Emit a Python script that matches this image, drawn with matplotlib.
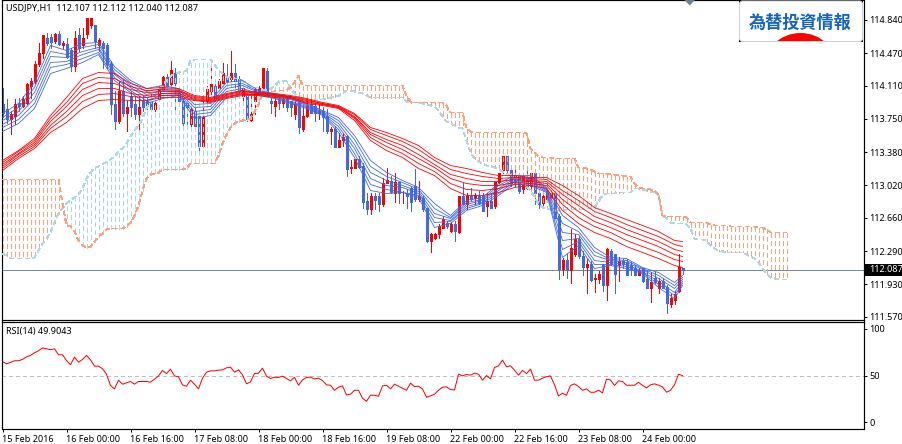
"""USDJPY H1 chart with GMMA ribbons, Ichimoku cloud and RSI pane."""

import matplotlib

matplotlib.use("Agg")
import matplotlib.pyplot as plt
from matplotlib.patches import Circle, FancyBboxPatch, Polygon, Rectangle

plt.rcParams["font.family"] = ["Noto Sans", "DejaVu Sans"]

opens = [113.917, 113.862, 113.752, 113.785, 113.928, 113.895, 113.928, 114.115, 114.17, 114.357,
         114.478, 114.632, 114.654, 114.61, 114.687, 114.555, 114.577, 114.511, 114.335, 114.665,
         114.555, 114.687, 114.775, 114.775, 114.555, 114.588, 114.555, 114.357, 113.917, 113.73,
         114.06, 113.818, 114.005, 113.917, 113.807, 113.95, 113.95, 113.95, 113.862, 113.972,
         114.082, 114.214, 114.137, 114.258, 114.038, 113.95, 113.928, 113.697, 113.84, 113.785,
         113.455, 113.95, 114.06, 114.115, 114.093, 114.148, 114.225, 114.192, 114.258, 114.192,
         114.005, 114.005, 113.741, 113.95, 114.06, 114.06, 114.28, 113.95, 113.895, 113.972,
         113.928, 113.983, 113.95, 113.807, 113.928, 113.642, 113.785, 113.917, 113.895, 113.818,
         113.84, 113.785, 113.62, 113.642, 113.444, 113.51, 113.565, 113.213, 113.213, 113.312,
         113.235, 112.85, 112.751, 112.894, 112.905, 112.817, 113.037, 113.07, 112.938, 113.059,
         112.927, 112.938, 112.993, 113.004, 112.872, 112.883, 112.773, 112.41, 112.443, 112.487,
         112.553, 112.608, 112.52, 112.597, 112.509, 112.905, 112.817, 112.905, 112.883, 112.905,
         112.905, 112.795, 112.85, 112.795, 113.059, 113.18, 113.345, 113.18, 113.07, 113.125,
         112.982, 113.103, 113.015, 113.147, 112.938, 112.828, 112.872, 112.883, 112.938, 112.685,
         112.102, 112.201, 112.091, 112.267, 112.432, 112.245, 112.124, 112.157, 111.992, 111.992,
         112.135, 111.915, 112.3, 112.267, 112.135, 112.19, 112.168, 112.135, 112.113, 112.025,
         112.113, 111.992, 111.893, 112.003, 111.893, 111.97, 111.904, 111.717, 111.761, 111.86,
         112.107]
highs = [114.093, 113.972, 113.84, 113.972, 113.983, 114.005, 114.148, 114.203, 114.39, 114.588,
         114.665, 114.698, 114.687, 114.698, 114.72, 114.61, 114.632, 114.522, 114.72, 114.753,
         114.753, 114.863, 114.863, 114.786, 114.632, 114.61, 114.588, 114.39, 114.06, 114.17,
         114.192, 113.95, 114.06, 114.005, 114.005, 114.005, 113.983, 114.027, 113.972, 114.115,
         114.225, 114.247, 114.39, 114.302, 114.06, 113.983, 113.95, 113.873, 113.873, 113.818,
         113.95, 114.115, 114.335, 114.17, 114.192, 114.368, 114.357, 114.5, 114.357, 114.225,
         114.115, 114.027, 114.005, 114.093, 114.115, 114.313, 114.302, 113.983, 113.983, 114.005,
         113.983, 114.005, 113.95, 113.95, 113.95, 113.895, 113.972, 114.005, 113.917, 113.917,
         113.873, 113.862, 113.653, 113.675, 113.598, 113.598, 113.576, 113.29, 113.312, 113.345,
         113.257, 112.938, 112.938, 112.938, 112.938, 113.103, 113.213, 113.125, 113.147, 113.07,
         112.96, 112.982, 113.015, 113.202, 113.07, 112.905, 112.773, 112.498, 112.498, 112.597,
         112.685, 112.63, 112.619, 112.63, 112.905, 113.037, 112.938, 112.993, 112.938, 112.96,
         112.938, 112.927, 112.938, 113.059, 113.158, 113.345, 113.345, 113.213, 113.213, 113.125,
         113.125, 113.202, 113.158, 113.158, 112.96, 112.927, 112.938, 112.96, 112.938, 112.707,
         112.223, 112.267, 112.542, 112.487, 112.465, 112.3, 112.212, 112.19, 112.047, 112.08,
         112.157, 112.333, 112.311, 112.267, 112.234, 112.212, 112.212, 112.168, 112.135, 112.113,
         112.113, 112.08, 112.058, 112.058, 112.003, 112.003, 111.915, 111.827, 111.86, 112.267,
         112.112]
lows = [113.763, 113.708, 113.587, 113.697, 113.84, 113.873, 113.917, 113.983, 114.148, 114.335,
        114.412, 114.555, 114.533, 114.588, 114.555, 114.533, 114.412, 114.28, 114.28, 114.5,
        114.533, 114.643, 114.753, 114.533, 114.5, 114.313, 114.302, 113.807, 113.642, 113.708,
        113.785, 113.62, 113.785, 113.752, 113.598, 113.84, 113.862, 113.84, 113.84, 113.95,
        114.06, 114.082, 114.115, 113.862, 113.917, 113.675, 113.697, 113.675, 113.653, 113.356,
        113.455, 113.928, 114.027, 113.95, 114.082, 114.137, 114.137, 114.17, 114.06, 114.005,
        113.95, 113.73, 113.73, 113.807, 114.027, 114.038, 114.027, 113.818, 113.785, 113.862,
        113.873, 113.84, 113.785, 113.752, 113.598, 113.62, 113.763, 113.818, 113.73, 113.752,
        113.62, 113.598, 113.477, 113.444, 113.433, 113.455, 113.125, 113.158, 113.213, 113.213,
        112.773, 112.707, 112.707, 112.762, 112.74, 112.795, 113.037, 112.938, 112.839, 112.828,
        112.828, 112.773, 112.74, 112.85, 112.85, 112.74, 112.388, 112.289, 112.432, 112.443,
        112.553, 112.553, 112.509, 112.41, 112.498, 112.817, 112.762, 112.85, 112.817, 112.817,
        112.74, 112.685, 112.773, 112.773, 113.048, 113.158, 113.158, 113.015, 113.015, 112.927,
        112.927, 112.982, 112.982, 112.817, 112.773, 112.795, 112.85, 112.861, 112.663, 111.992,
        112.036, 112.003, 111.948, 112.245, 112.223, 112.036, 111.838, 111.97, 111.849, 111.948,
        111.86, 111.761, 112.135, 111.838, 111.97, 112.113, 112.025, 112.036, 112.025, 112.025,
        111.959, 111.882, 111.739, 111.948, 111.838, 111.882, 111.618, 111.677, 111.717, 111.849,
        112.04]
closes = [113.818, 113.752, 113.807, 113.917, 113.895, 113.972, 114.126, 114.17, 114.357, 114.478,
          114.665, 114.588, 114.599, 114.687, 114.577, 114.588, 114.434, 114.335, 114.632, 114.533,
          114.632, 114.863, 114.863, 114.61, 114.621, 114.533, 114.357, 113.917, 113.73, 114.06,
          113.818, 113.873, 113.873, 113.807, 113.884, 113.873, 113.895, 113.862, 113.928, 114.082,
          114.214, 114.115, 114.291, 114.148, 113.95, 113.708, 113.873, 113.862, 113.675, 113.455,
          113.763, 114.082, 114.137, 113.983, 114.17, 114.258, 114.17, 114.258, 114.17, 114.06,
          114.093, 113.752, 113.807, 114.082, 114.093, 114.302, 114.038, 113.928, 113.95, 113.928,
          113.972, 113.873, 113.873, 113.917, 113.653, 113.785, 113.895, 113.818, 113.818, 113.84,
          113.763, 113.62, 113.642, 113.444, 113.521, 113.554, 113.202, 113.224, 113.312, 113.224,
          112.839, 112.751, 112.894, 112.861, 112.817, 113.048, 113.081, 112.949, 113.059, 112.938,
          112.938, 112.905, 112.839, 112.872, 112.905, 112.762, 112.41, 112.487, 112.487, 112.575,
          112.641, 112.575, 112.597, 112.52, 112.905, 112.817, 112.905, 112.872, 112.916, 112.828,
          112.74, 112.85, 112.773, 113.059, 113.147, 113.345, 113.18, 113.048, 113.125, 112.96,
          113.125, 112.993, 113.147, 112.927, 112.817, 112.905, 112.927, 112.938, 112.663, 112.102,
          112.201, 112.091, 112.333, 112.421, 112.245, 112.124, 112.157, 111.981, 112.003, 112.047,
          111.915, 112.322, 112.157, 112.047, 112.19, 112.157, 112.036, 112.102, 112.036, 112.08,
          111.97, 111.893, 111.959, 111.959, 111.97, 111.893, 111.728, 111.772, 111.827, 112.124,
          112.087]

ma_bars = list(range(0, 169, 4)) + [170]
fast_1 = [113.807, 113.917, 114.148, 114.555, 114.5, 114.577, 114.588, 114.324, 114.17, 114.082, 114.115,
          114.082, 113.95, 113.95, 114.148, 114.17, 114.06, 114.027, 113.983, 113.917, 113.84, 113.763,
          113.565, 113.29, 113.158, 113.07, 112.993, 112.817, 112.685, 112.85, 112.883, 113.037, 113.125,
          113.125, 112.993, 112.685, 112.553, 112.333, 112.223, 112.212, 112.113, 112.058, 111.948, 112.025]
fast_2 = [113.763, 113.873, 114.093, 114.489, 114.456, 114.533, 114.566, 114.291, 114.148, 114.049, 114.082,
          114.071, 113.906, 113.917, 114.115, 114.137, 114.049, 114.016, 113.972, 113.906, 113.829, 113.73,
          113.521, 113.224, 113.114, 113.048, 112.971, 112.762, 112.663, 112.828, 112.861, 113.015, 113.103,
          113.103, 112.982, 112.597, 112.509, 112.289, 112.201, 112.19, 112.102, 112.025, 111.915, 112.003]
fast_3 = [113.73, 113.829, 114.038, 114.434, 114.423, 114.489, 114.533, 114.258, 114.115, 114.016, 114.06,
          114.049, 113.873, 113.884, 114.082, 114.115, 114.038, 114.005, 113.961, 113.895, 113.818, 113.697,
          113.466, 113.158, 113.07, 113.015, 112.949, 112.707, 112.652, 112.806, 112.85, 112.982, 113.092,
          113.081, 112.971, 112.498, 112.476, 112.245, 112.19, 112.168, 112.091, 111.992, 111.882, 111.981]
fast_4 = [113.686, 113.785, 113.972, 114.368, 114.379, 114.456, 114.511, 114.236, 114.093, 113.983, 114.027,
          114.038, 113.829, 113.851, 114.049, 114.082, 114.027, 113.994, 113.939, 113.884, 113.807, 113.664,
          113.422, 113.092, 113.015, 112.993, 112.927, 112.663, 112.63, 112.784, 112.828, 112.96, 113.07,
          113.059, 112.96, 112.41, 112.432, 112.19, 112.168, 112.146, 112.069, 111.959, 111.838, 111.959]
fast_5 = [113.653, 113.741, 113.917, 114.313, 114.346, 114.412, 114.478, 114.203, 114.06, 113.95, 114.005,
          114.016, 113.796, 113.818, 114.016, 114.06, 114.016, 113.983, 113.928, 113.873, 113.796, 113.631,
          113.367, 113.026, 112.971, 112.94, 112.905, 112.608, 112.619, 112.762, 112.817, 112.927, 113.059,
          113.037, 112.949, 112.311, 112.399, 112.146, 112.146, 112.124, 112.058, 111.926, 111.805, 111.937]
fast_6 = [113.609, 113.697, 113.862, 114.247, 114.302, 114.368, 114.456, 114.17, 114.038, 113.917, 113.972,
          114.005, 113.752, 113.785, 113.983, 114.027, 114.005, 113.972, 113.917, 113.862, 113.785, 113.598,
          113.323, 112.96, 112.927, 112.938, 112.883, 112.553, 112.597, 112.74, 112.795, 112.905, 113.037,
          113.015, 112.938, 112.223, 112.355, 112.102, 112.135, 112.102, 112.047, 111.893, 111.772, 111.915]

slow_1 = [113.29, 113.4, 113.532, 113.785, 113.983, 114.192, 114.258, 114.247, 114.137, 114.082, 114.093,
          114.082, 114.005, 113.983, 114.027, 114.06, 114.038, 114.027, 114.005, 113.972, 113.928, 113.895,
          113.807, 113.653, 113.598, 113.532, 113.455, 113.323, 113.235, 113.202, 113.158, 113.125, 113.125,
          113.103, 113.103, 113.015, 112.905, 112.773, 112.707, 112.641, 112.575, 112.509, 112.41, 112.399]
slow_2 = [113.268, 113.389, 113.51, 113.752, 113.928, 114.137, 114.203, 114.192, 114.104, 114.06, 114.071,
          114.06, 113.994, 113.972, 114.016, 114.049, 114.038, 114.016, 113.994, 113.961, 113.917, 113.884,
          113.796, 113.631, 113.565, 113.499, 113.411, 113.29, 113.191, 113.147, 113.114, 113.092, 113.103,
          113.092, 113.081, 112.96, 112.85, 112.729, 112.663, 112.586, 112.52, 112.454, 112.366, 112.344]
slow_3 = [113.246, 113.367, 113.488, 113.719, 113.884, 114.071, 114.148, 114.137, 114.071, 114.038, 114.049,
          114.049, 113.983, 113.961, 114.005, 114.038, 114.027, 114.016, 113.994, 113.95, 113.917, 113.884,
          113.774, 113.598, 113.521, 113.455, 113.356, 113.246, 113.136, 113.092, 113.059, 113.059, 113.081,
          113.07, 113.059, 112.916, 112.795, 112.674, 112.608, 112.531, 112.465, 112.399, 112.311, 112.289]
slow_4 = [113.224, 113.356, 113.466, 113.675, 113.829, 114.005, 114.082, 114.082, 114.027, 114.005, 114.027,
          114.027, 113.972, 113.95, 113.994, 114.027, 114.016, 114.005, 113.983, 113.939, 113.906, 113.873,
          113.763, 113.576, 113.488, 113.411, 113.312, 113.213, 113.092, 113.037, 113.015, 113.015, 113.048,
          113.059, 113.037, 112.861, 112.729, 112.619, 112.553, 112.476, 112.41, 112.344, 112.256, 112.234]
slow_5 = [113.202, 113.334, 113.444, 113.642, 113.774, 113.939, 114.016, 114.027, 113.994, 113.983, 114.005,
          114.005, 113.961, 113.939, 113.983, 114.016, 114.016, 113.994, 113.983, 113.928, 113.906, 113.873,
          113.752, 113.543, 113.444, 113.367, 113.257, 113.169, 113.037, 112.971, 112.96, 112.982, 113.026,
          113.037, 113.015, 112.806, 112.663, 112.564, 112.498, 112.41, 112.344, 112.278, 112.201, 112.179]
slow_6 = [113.18, 113.312, 113.422, 113.598, 113.708, 113.862, 113.95, 113.961, 113.95, 113.95, 113.983,
          113.983, 113.95, 113.928, 113.972, 114.005, 114.005, 113.983, 113.972, 113.917, 113.895, 113.862,
          113.73, 113.51, 113.4, 113.323, 113.202, 113.125, 112.982, 112.905, 112.905, 112.938, 112.993,
          113.015, 112.982, 112.74, 112.597, 112.498, 112.432, 112.344, 112.278, 112.212, 112.135, 112.113]

# cloud runs 26 bars past the last candle
span_a = [112.267, 112.245, 112.212, 112.212, 112.212, 112.212, 112.212, 112.212, 112.223, 112.3,
          112.377, 112.432, 112.498, 112.608, 112.707, 112.762, 112.817, 112.85, 112.883, 112.916,
          112.982, 113.092, 113.158, 113.213, 113.224, 113.246, 113.279, 113.301, 113.334, 113.389,
          113.422, 113.477, 113.554, 113.62, 113.675, 113.752, 113.862, 113.95, 114.005, 114.06,
          114.115, 114.17, 114.214, 114.247, 114.258, 114.269, 114.28, 114.39, 114.401, 114.401,
          114.401, 114.401, 114.401, 114.346, 114.28, 114.247, 114.214, 114.203, 114.192, 114.192,
          114.17, 114.137, 114.093, 114.093, 114.093, 114.071, 114.06, 114.082, 114.104, 114.159,
          114.17, 114.159, 114.093, 114.027, 113.983, 113.95, 113.95, 113.95, 113.95, 113.961,
          113.961, 113.972, 113.983, 113.994, 114.005, 114.027, 114.06, 114.06, 114.049, 114.038,
          114.027, 114.005, 113.983, 113.983, 113.983, 113.983, 113.983, 113.983, 113.983, 113.983,
          113.983, 113.939, 113.928, 113.928, 113.928, 113.917, 113.906, 113.895, 113.884, 113.84,
          113.774, 113.719, 113.697, 113.675, 113.653, 113.642, 113.51, 113.378, 113.312, 113.279,
          113.257, 113.235, 113.224, 113.213, 113.191, 113.169, 113.147, 113.125, 113.092, 113.07,
          113.037, 113.004, 112.96, 112.883, 112.817, 112.773, 112.762, 112.751, 112.74, 112.74,
          112.74, 112.751, 112.751, 112.751, 112.751, 112.751, 112.762, 112.762, 112.773, 112.839,
          112.905, 112.927, 112.927, 112.927, 112.938, 112.938, 112.938, 112.938, 112.982, 112.982,
          112.971, 112.96, 112.949, 112.938, 112.905, 112.685, 112.652, 112.608, 112.597, 112.597,
          112.597, 112.586, 112.542, 112.432, 112.421, 112.421, 112.41, 112.355, 112.322, 112.3,
          112.289, 112.278, 112.278, 112.278, 112.278, 112.278, 112.256, 112.234, 112.212, 112.168,
          112.102, 112.047, 112.003, 111.992, 111.981, 111.981, 111.981]
span_b = [113.081, 113.081, 113.081, 113.081, 113.081, 113.081, 113.081, 113.081, 113.081, 113.081,
          113.081, 113.081, 113.081, 113.081, 113.081, 112.817, 112.575, 112.564, 112.509, 112.41,
          112.355, 112.333, 112.344, 112.399, 112.454, 112.487, 112.531, 112.542, 112.542, 112.542,
          112.542, 112.564, 112.608, 112.685, 112.795, 112.96, 113.092, 113.136, 113.147, 113.158,
          113.191, 113.191, 113.191, 113.191, 113.191, 113.191, 113.202, 113.257, 113.257, 113.257,
          113.257, 113.257, 113.257, 113.257, 113.345, 113.477, 113.576, 113.653, 113.697, 113.719,
          113.73, 113.741, 113.752, 113.829, 113.906, 114.038, 114.049, 114.049, 114.049, 114.06,
          114.06, 114.06, 114.093, 114.148, 114.225, 114.115, 114.115, 114.115, 114.115, 114.115,
          114.115, 114.115, 114.115, 114.115, 114.115, 114.115, 114.115, 114.115, 114.115, 114.115,
          114.115, 114.115, 114.115, 114.115, 114.115, 114.115, 114.115, 114.115, 114.115, 114.115,
          114.115, 114.0, 113.939, 113.928, 113.928, 113.928, 113.928, 113.928, 113.928, 113.928,
          113.928, 113.895, 113.818, 113.818, 113.818, 113.818, 113.642, 113.609, 113.598, 113.598,
          113.598, 113.598, 113.598, 113.598, 113.598, 113.598, 113.598, 113.598, 113.598, 113.598,
          113.598, 113.587, 113.422, 113.378, 113.334, 113.323, 113.323, 113.323, 113.312, 113.312,
          113.312, 113.312, 113.312, 113.312, 113.213, 113.213, 113.202, 113.191, 113.169, 113.147,
          113.147, 113.147, 113.136, 113.136, 113.125, 113.125, 113.114, 113.114, 113.037, 112.993,
          112.982, 112.982, 112.971, 112.96, 112.916, 112.685, 112.674, 112.674, 112.674, 112.674,
          112.674, 112.663, 112.608, 112.608, 112.608, 112.608, 112.608, 112.586, 112.575, 112.575,
          112.575, 112.575, 112.564, 112.564, 112.564, 112.564, 112.564, 112.564, 112.564, 112.553,
          112.553, 112.531, 112.498, 112.498, 112.498, 112.498, 112.498]

rsi_values = [65.0, 62.5, 64.0, 65.8, 65.8, 67.2, 70.0, 71.5, 74.3, 76.5, 79.4, 78.6, 77.6, 78.6, 72.2,
              72.2, 66.1, 61.5, 69.7, 64.3, 67.2, 71.5, 66.8, 60.0, 60.0, 57.2, 51.4, 39.3, 35.7, 45.0,
              40.7, 42.1, 43.6, 40.7, 43.6, 43.6, 43.6, 42.8, 46.1, 49.6, 55.4, 52.1, 56.8, 49.6, 48.6,
              40.0, 38.5, 45.0, 40.7, 35.7, 47.1, 53.6, 55.0, 55.0, 55.7, 56.1, 58.2, 59.0, 53.6, 56.1,
              50.7, 41.1, 43.2, 52.1, 52.5, 57.9, 49.3, 46.8, 48.2, 47.9, 49.3, 46.8, 44.3, 48.2, 39.6,
              45.3, 47.9, 48.2, 46.4, 47.1, 44.6, 40.0, 39.6, 34.2, 37.5, 38.9, 29.2, 30.0, 34.2, 34.2,
              25.7, 22.4, 28.9, 28.9, 27.8, 38.9, 39.6, 35.7, 40.7, 38.5, 36.4, 34.2, 41.8, 38.2, 38.5,
              35.7, 26.7, 28.2, 30.0, 34.2, 37.5, 37.8, 35.0, 34.6, 51.4, 49.6, 51.1, 50.4, 52.5, 51.4,
              45.0, 50.0, 46.4, 58.6, 60.4, 66.5, 59.3, 60.4, 55.7, 50.4, 55.4, 52.1, 56.8, 45.0, 45.0,
              47.1, 48.9, 49.6, 40.0, 28.2, 31.0, 28.9, 39.3, 41.1, 38.2, 34.2, 35.7, 32.1, 32.1, 34.2,
              31.4, 46.1, 45.3, 39.3, 44.3, 43.6, 39.6, 39.6, 39.6, 42.8, 39.3, 36.8, 40.0, 41.1, 39.6,
              37.8, 32.1, 34.2, 40.0, 51.4, 49.9043]

price_ticks = [114.84, 114.47, 114.11, 113.75, 113.38, 113.02, 112.66, 112.29, 111.93, 111.57]
rsi_ticks = [100, 50, 0]
time_labels = ["15 Feb 2016", "16 Feb 00:00", "16 Feb 16:00", "17 Feb 08:00", "18 Feb 00:00", "18 Feb 16:00",
               "19 Feb 08:00", "22 Feb 00:00", "22 Feb 16:00", "23 Feb 08:00", "24 Feb 00:00"]
time_bars = [0, 16, 32, 48, 64, 80, 96, 112, 128, 144, 160]

BLUE = "#4169E1"
RED = "#FF0000"
SALMON = "#FFA07A"
LIGHT_BLUE = "#ADD8E6"
PX = 0.72  # one pixel in points at dpi 100
FONT = 6.5
W, H = 902, 444


def px_axes(fig, left, top, right, bottom):
    return fig.add_axes([left / W, 1 - bottom / H, (right - left) / W, (bottom - top) / H])


def draw_cloud(ax):
    bars = list(range(len(span_a)))
    for i in bars:
        color = LIGHT_BLUE if span_a[i] >= span_b[i] else SALMON
        ax.plot([i, i], [span_b[i], span_a[i]], color=color, lw=PX, ls=(0, (5, 3)),
                dash_capstyle="butt", antialiased=False, zorder=3)
    ax.plot(bars, span_a, color=LIGHT_BLUE, lw=PX, ls=(0, (5, 3)), antialiased=False, zorder=3)
    ax.plot(bars, span_b, color=SALMON, lw=PX, ls=(0, (5, 3)), antialiased=False, zorder=3)


def draw_candles(ax):
    bars = list(range(len(closes)))
    colors = [RED if c >= o else BLUE for o, c in zip(opens, closes)]
    ax.vlines(bars, lows, highs, colors=colors, lw=PX, antialiased=False, zorder=2)
    ax.vlines(bars, opens, closes, colors=colors, lw=3 * PX, antialiased=False, zorder=2)


def draw_logo(over):
    # black only shows through at the corners of the rounded box
    over.add_patch(Rectangle((739, 1), 124, 41, fc="black", ec="none", zorder=1))
    over.add_patch(FancyBboxPatch((739.5, 1), 123, 40.5, boxstyle="round,pad=0,rounding_size=3",
                                  fc="white", ec="#D0D0D0", lw=PX, zorder=2))
    sun = Circle((800.5, 71.5), 38.5, fc=RED, ec="none", zorder=3)
    over.add_patch(sun)
    sun.set_clip_path(Rectangle((740, 1), 122, 40, transform=over.transData))
    over.text(800, 22.5, "為替投資情報", family=["Noto Sans CJK JP", "DejaVu Sans"], weight="bold",
              fontsize=12.3, color="#1565C0", ha="center", va="center", zorder=4)


def main():
    fig = plt.figure(figsize=(W / 100, H / 100), dpi=100, facecolor="white")

    ax = px_axes(fig, 1.5, 0.5, 863.5, 319.5)
    ax.set_xlim(-0.25, 215.25)
    ax.set_ylim(111.541, 115.05)

    draw_cloud(ax)
    draw_candles(ax)
    for line in (fast_1, fast_2, fast_3, fast_4, fast_5, fast_6):
        ax.plot(ma_bars, line, color=BLUE, lw=0.6, zorder=4)
    for line in (slow_1, slow_2, slow_3, slow_4, slow_5, slow_6):
        ax.plot(ma_bars, line, color=RED, lw=0.6, zorder=5)
    ax.axhline(closes[-1], color="#778899", lw=PX, antialiased=False, zorder=1)

    ax.set_xticks([])
    ax.yaxis.tick_right()
    ax.set_yticks(price_ticks)
    ax.set_yticklabels([f"{v:.3f}" for v in price_ticks], fontsize=FONT)
    ax.tick_params(axis="y", length=2.2, width=PX, pad=2)

    rsi = px_axes(fig, 1.5, 321.5, 863.5, 428.5)
    rsi.set_xlim(-0.25, 215.25)
    rsi.set_ylim(-6.7, 107.8)
    rsi.axhline(50, color="#C0C0C0", lw=PX, ls=(0, (4, 3)), antialiased=False, zorder=1)
    rsi.plot(range(len(rsi_values)), rsi_values, color=RED, lw=PX, zorder=2)
    rsi.yaxis.tick_right()
    rsi.set_yticks(rsi_ticks)
    rsi.set_yticklabels([str(v) for v in rsi_ticks], fontsize=FONT)
    rsi.get_yticklabels()[1].set_fontweight("bold")
    rsi.tick_params(axis="y", length=2.2, width=PX, pad=2)
    rsi.set_xticks(time_bars)
    rsi.set_xticklabels(time_labels, fontsize=FONT, ha="left")
    rsi.tick_params(axis="x", length=2.2, width=PX, pad=2.2)

    for a in (ax, rsi):
        for spine in a.spines.values():
            spine.set_linewidth(PX * 1.2)

    # overlay in pixel coordinates for the labels that sit on top of the panes
    over = fig.add_axes([0, 0, 1, 1], facecolor="none")
    over.set_xlim(0, W)
    over.set_ylim(H, 0)
    over.axis("off")
    over.text(6, 8.5, f"USDJPY,H1  {opens[-1]:.3f} {highs[-1]:.3f} {lows[-1]:.3f} {closes[-1]:.3f}",
              fontsize=FONT, va="center", color="black")
    over.text(6, 331, f"RSI(14) {rsi_values[-1]:.4f}", fontsize=FONT, va="center", color="black")
    over.add_patch(Polygon([(684.5, 0), (695, 0), (689.7, 5.5)], fc="#708090", ec="none"))
    over.add_patch(Rectangle((865, 264), 37, 11.5, fc="black", ec="none"))
    over.text(869, 269.8, f"{closes[-1]:.3f}", fontsize=FONT, va="center", color="white")
    draw_logo(over)

    fig.savefig("out.png", dpi=100)


main()
